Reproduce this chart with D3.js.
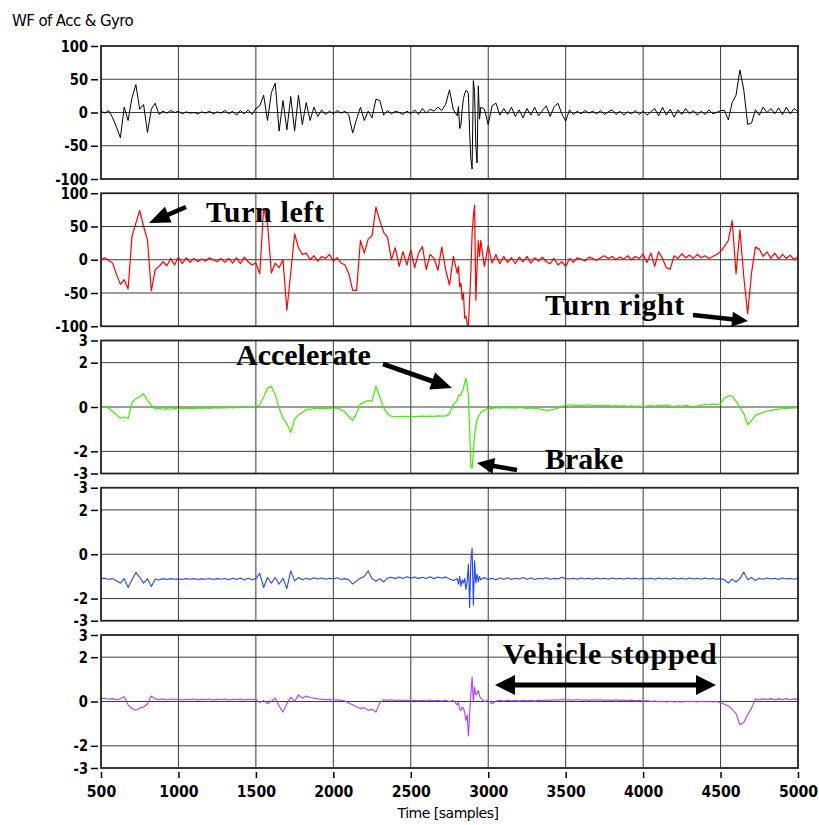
<!DOCTYPE html>
<html><head><meta charset="utf-8">
<script src="https://cdn.jsdelivr.net/npm/d3@7/dist/d3.min.js"></script>
<style>
body{margin:0;background:#fff}
svg{display:block}
.tick text{font-family:"DejaVu Sans",Verdana,sans-serif;font-weight:bold;font-size:16px;fill:#000}
.tick line{stroke:#000;stroke-width:1.5}
.ann{font-family:"Liberation Serif","Times New Roman",serif;font-weight:bold;font-size:30px;fill:#000}
</style></head>
<body><svg id="chart" width="819" height="825"></svg>
<script>
// ---------- data ----------
// sample times: every 25 samples, denser (every 8) around the braking spike
const samples = [].concat(d3.range(500, 2800, 25), d3.range(2800, 2960, 8), d3.range(2975, 5001, 25));
const timeTicks = [500,1000,1500,2000,2500,3000,3500,4000,4500,5000];
const wfTicks = [100,50,0,-50,-100];
const wfGrid = [50,0,-50];
const smallTicks = [3,2,0,-2,-3];
const smallGrid = [2,0,-2];

const seriesBlack = [
 2,-1,3,-8,-22,-38,8,-12,22,42, 5,12,-30,5,14,-3,2,-1,3,0, 2,-2,1,-1,0,-2,1,-1,2,-2,
 1,-1,3,-2,2,-4,3,-2,4,-3, 6,10,26,-12,30,44,-28,18,-26,24, -28,26,-18,15,-12,8,-6,4,-3,2,
 -2,3,-1,2,-4,-31,-10,8,-12,2, -8,20,18,-4,3,-2,2,0,-3,2, -2,4,-3,6,-1,5,2,8,3,12, 34,4,
 -5,9,-24,-18,5,21,28,33,32,28,-30,-70,-85,48,30,-50,-76,40,-10,8,
 5,-18,10,14,-4,6,-3,8,-6,4, -8,6,-4,8,-5,3,10,-6,8,14, -2,-13,4,-3,2,-2,3,-1,2,-2,
 3,-3,1,4,-3,2,-4,1,-2,3, -3,2,-4,1,6,-5,8,-4,5,-7, 4,-3,6,-2,3,-4,2,-3,4,-2,
 0,3,3,-11,15,26,64,34,-18,-16, 4,-4,8,0,6,-2,7,-3,8,-2, 6,1];

const seriesRed = [
 0,3,-1,-5,-22,-37,-30,-44,35,55, 74,50,30,-47,-15,-10,-3,-9,2,-8, 4,-6,3,-4,2,-3,1,-2,3,0,
 -3,2,-4,2,-5,3,-6,4,-3,-8, -5,-21,77,55,-20,-5,-12,0,-76,-20, 39,18,8,10,0,6,-2,5,2,8,
 -2,3,-5,-8,-21,-46,-46,29,10,31, 36,79,59,41,34,0,18,-10,12,-8, 15,-12,10,20,-15,8,2,-16,19,-15, -38,5,
 -20,-10,-41,-35,-60,-50,-88,-85,-96,-100,-60,-20,40,65,82,-61,-10,29,5,29,
 -10,21,-5,8,-6,5,-4,3,-6,4, -3,5,-5,3,-2,4,-3,-6,2,-8, -3,-10,2,-4,3,1,-2,4,2,-1,
 3,6,2,5,0,4,1,6,0,5, 2,8,-4,10,-10,12,2,-12,-14,6, 2,9,3,7,2,8,3,6,2,5,
 8,12,20,29,59,-21,45,-26,-81,-20, 19,16,5,12,2,10,1,8,2,7, 0,5];

const seriesGreen = [
 0,0.02,-0.05,-0.2,-0.35,-0.5,-0.45,-0.52,0.2,0.38, 0.45,0.6,0.3,0.08,-0.1,-0.06,-0.1,-0.07,-0.1,-0.06,
 -0.09,-0.06,-0.08,-0.05,-0.07,-0.04,-0.06,-0.04,-0.06,-0.03, -0.05,-0.03,-0.04,-0.02,-0.04,-0.01,-0.03,0,-0.02,0,
 0.02,0.1,0.45,0.85,0.92,0.55,-0.05,-0.5,-0.75,-1.15, -0.55,-0.35,-0.25,-0.12,-0.1,-0.07,-0.08,-0.05,-0.07,-0.04,
 -0.06,-0.04,-0.12,-0.22,-0.45,-0.6,-0.3,0.15,0.2,0.3, 0.25,0.95,0.45,-0.05,-0.3,-0.42,-0.44,-0.43,-0.42,-0.43,
 -0.42,-0.43,-0.42,-0.41,-0.42,-0.41,-0.42,-0.4,-0.41,-0.4, -0.3,0.12,
 0.3,0.54,0.5,0.55,0.7,0.85,1.1,1.3,1.0,0.5,-1.0,-2.7,-2.75,-2.0,-1.3,-0.9,-0.55,-0.45,-0.35,-0.25,
 -0.15,-0.05,-0.06,-0.03,-0.05,-0.02,-0.04,-0.03,-0.05,-0.02, -0.04,-0.06,-0.04,-0.06,-0.08,-0.12,-0.15,-0.14,-0.1,-0.05,
 0.02,0.08,0.1,0.07,0.09,0.06,0.08,0.1,0.07,0.06, 0.08,0.05,0.07,0.04,0.06,0.04,0.05,0.02,0.05,0.03,
 0.04,0.02,0.04,0.06,0.03,0.08,0.05,0.1,0.04,0.02, 0.05,0.03,0.08,0.04,0.02,0.04,0.08,0.12,0.1,0.13,
 0.1,0.15,0.4,0.5,0.5,0.25,0,-0.3,-0.8,-0.6, -0.38,-0.3,-0.25,-0.18,-0.15,-0.12,-0.1,-0.08,-0.06,-0.05, -0.03,-0.04];

const seriesBlue = [
 -1.1,-1.08,-1.14,-1.1,-1.2,-1.3,-1.1,-1.5,-1.15,-0.82, -1.05,-1.3,-1.1,-1.45,-1.12,-1.16,-1.1,-1.14,-1.1,-1.13,
 -1.11,-1.14,-1.1,-1.13,-1.1,-1.14,-1.11,-1.13,-1.09,-1.14, -1.1,-1.13,-1.09,-1.15,-1.08,-1.14,-1.07,-1.16,-1.08,-1.15,
 -1.1,-0.85,-1.5,-1.05,-1.3,-1.05,-1.35,-1.08,-1.55,-0.75, -1.2,-1.05,-1.15,-1.08,-1.14,-1.06,-1.12,-1.07,-1.13,-1.08,
 -1.12,-1.06,-1.14,-1.1,-1.15,-1.35,-1.2,-1.08,-1.0,-0.75, -1.1,-1.22,-1.1,-1.25,-1.08,-1.04,-1.1,-1.03,-1.09,-1.02,
 -1.08,-1.03,-1.1,-1.04,-1.09,-1.02,-1.1,-1.03,-1.08,-1.02, -1.12,-1.18,
 -1.1,-1.35,-1.0,-1.45,-1.15,-1.3,-1.1,-1.6,-1.2,-0.45,-2.4,-0.3,0.28,-2.3,-0.3,-1.3,-0.9,-1.25,-1.0,-1.15,
 -1.05,-1.14,-1.08,-1.15,-1.07,-1.13,-1.06,-1.14,-1.08,-1.12, -1.05,-1.13,-1.07,-1.14,-1.08,-1.12,-1.06,-1.13,-1.09,-1.12,
 -1.04,-1.1,-1.12,-1.08,-1.13,-1.07,-1.12,-1.08,-1.13,-1.07, -1.12,-1.08,-1.13,-1.07,-1.12,-1.08,-1.13,-1.07,-1.12,-1.08,
 -1.13,-1.07,-1.12,-1.08,-1.13,-1.07,-1.12,-1.08,-1.13,-1.07, -1.12,-1.08,-1.13,-1.07,-1.12,-1.08,-1.13,-1.07,-1.12,-1.08,
 -1.13,-1.1,-1.15,-1.3,-1.12,-1.25,-1.1,-0.8,-1.15,-1.05, -1.18,-1.08,-1.13,-1.07,-1.12,-1.08,-1.14,-1.07,-1.12,-1.09, -1.13,-1.08];

const seriesPurple = [
 0.12,0.15,0.1,0.13,0.08,0.12,0.22,-0.15,-0.32,-0.4, -0.3,-0.25,-0.1,0.25,0.12,0.08,0.12,0.07,0.11,0.08,
 0.1,0.07,0.1,0.08,0.11,0.07,0.1,0.08,0.11,0.07, 0.1,0.08,0.11,0.07,0.1,0.08,0.11,0.07,0.1,0.08,
 0.09,-0.05,0.05,-0.1,0.02,0.15,-0.2,-0.48,-0.1,0.2, 0,0.3,0.15,0.25,0.18,0.15,0.12,0.1,0.08,0.09,
 0.07,0.08,0.05,0.02,-0.08,-0.15,-0.25,-0.32,-0.28,-0.4, -0.35,-0.48,-0.05,0.08,0.05,0.08,0.04,0.07,0.04,0.07,
 0.03,0.06,0.03,0.06,0.03,0.07,0.03,0.06,0.02,0.06, 0,0.05,
 -0.15,-0.05,-0.35,-0.4,-0.25,-0.3,-0.5,-0.85,-0.6,-1.55,-0.55,0.35,1.1,0,0.65,0.3,0.35,0.5,0.25,0.15,
 0,0.05,-0.1,0.02,0.05,0.02,0.06,0.03,0.05,0.02, 0.06,0.03,0.05,0.02,0.06,0.04,0.07,0.05,0.08,0.06,
 0.09,0.07,0.08,0.06,0.09,0.06,0.08,0.05,0.08,0.06, 0.08,0.05,0.07,0.05,0.08,0.05,0.07,0.04,0.06,0.03,
 0.05,0.02,0.04,0,0.02,-0.01,0.01,-0.02,0.01,-0.02, 0,-0.02,0.01,-0.01,0.01,-0.02,0.01,-0.01,0,-0.02,
 0,-0.05,-0.12,-0.2,-0.35,-0.55,-1.05,-0.95,-0.6,-0.3, 0.12,0.08,0.12,0.09,0.13,0.08,0.12,0.09,0.13,0.08, 0.12,0.1];

// ---------- layout ----------
const left = 101, right = 798, top0 = 46, pitch = 147.25, ph = 133;
const labelScale = 0.82;
const svg = d3.select('#chart');
const x = d3.scaleLinear().domain([500, 5000]).range([left, right]);

const panels = [
  {values: seriesBlack,  domain: [-100, 100], ticks: wfTicks,    grid: wfGrid,    color: '#000000', width: 1.0},
  {values: seriesRed,    domain: [-100, 100], ticks: wfTicks,    grid: wfGrid,    color: '#ff0000', width: 1.2},
  {values: seriesGreen,  domain: [-3, 3],     ticks: smallTicks, grid: smallGrid, color: '#3cf000', width: 1.2},
  {values: seriesBlue,   domain: [-3, 3],     ticks: smallTicks, grid: smallGrid, color: '#2246ff', width: 1.1},
  {values: seriesPurple, domain: [-3, 3],     ticks: smallTicks, grid: smallGrid, color: '#b03cff', width: 1.1}
];

const vGrid = timeTicks.slice(1, -1);

panels.forEach((p, k) => {
  const top = top0 + k * pitch, bottom = top + ph;
  const y = d3.scaleLinear().domain(p.domain).range([bottom, top]);
  const g = svg.append('g');
  const clipId = 'clip' + k;
  svg.append('clipPath').attr('id', clipId).append('rect')
     .attr('x', left).attr('y', top).attr('width', right - left).attr('height', ph);
  g.selectAll('.vg').data(vGrid).join('line')
    .attr('x1', d => x(d)).attr('x2', d => x(d)).attr('y1', top).attr('y2', bottom)
    .attr('stroke', '#3c3c3c').attr('stroke-width', 1);
  g.selectAll('.hg').data(p.grid).join('line')
    .attr('x1', left).attr('x2', right).attr('y1', d => y(d)).attr('y2', d => y(d))
    .attr('stroke', '#3c3c3c').attr('stroke-width', 1);
  const pts = d3.zip(samples, p.values);
  g.append('path').datum(pts)
    .attr('clip-path', `url(#${clipId})`)
    .attr('fill', 'none').attr('stroke', p.color).attr('stroke-width', p.width)
    .attr('stroke-linejoin', 'round')
    .attr('d', d3.line().x(d => x(d[0])).y(d => y(d[1])));
  g.append('rect').attr('x', left).attr('y', top).attr('width', right - left).attr('height', ph)
    .attr('fill', 'none').attr('stroke', '#222').attr('stroke-width', 1.8);
  const ax = svg.append('g').attr('transform', `translate(${left - 3},0)`)
    .call(d3.axisLeft(y).tickValues(p.ticks).tickSize(7).tickPadding(3).tickFormat(d => String(d)));
  ax.select('.domain').remove();
  ax.selectAll('.tick text').attr('x', -10 / labelScale).attr('transform', `scale(${labelScale},1)`);
});

const lastBottom = top0 + 4 * pitch + ph;
const xa = svg.append('g').attr('transform', `translate(0,${lastBottom + 4})`)
  .call(d3.axisBottom(x).tickValues(timeTicks).tickSize(6).tickPadding(8).tickFormat(d => String(d)));
xa.select('.domain').remove();
xa.selectAll('.tick text').attr('transform', `scale(${labelScale + 0.06},1)`);

svg.append('text').attr('x', 12).attr('y', 26).text('WF of Acc & Gyro')
  .attr('font-family', '"DejaVu Sans",Verdana,sans-serif').attr('font-size', 15).attr('letter-spacing', '-0.6px');
svg.append('text').attr('x', 448).attr('y', 818).attr('text-anchor', 'middle').text('Time [samples]')
  .attr('font-family', '"DejaVu Sans",Verdana,sans-serif').attr('font-size', 14).attr('letter-spacing', '-0.5px');

// ---------- annotations ----------
function arrowPts(x1, y1, x2, y2, w, hl, hw, both) {
  const L = Math.hypot(x2 - x1, y2 - y1), ux = (x2 - x1) / L, uy = (y2 - y1) / L, px = -uy, py = ux;
  const bx = x2 - ux * hl, by = y2 - uy * hl;
  const ax = x1 + ux * hl, ay = y1 + uy * hl;
  const pts = [];
  if (both) pts.push([x1, y1], [ax + px * hw / 2, ay + py * hw / 2], [ax + px * w / 2, ay + py * w / 2]);
  else pts.push([x1 + px * w / 2, y1 + py * w / 2]);
  pts.push([bx + px * w / 2, by + py * w / 2], [bx + px * hw / 2, by + py * hw / 2], [x2, y2],
           [bx - px * hw / 2, by - py * hw / 2], [bx - px * w / 2, by - py * w / 2]);
  if (both) pts.push([ax - px * w / 2, ay - py * w / 2], [ax - px * hw / 2, ay - py * hw / 2]);
  else pts.push([x1 - px * w / 2, y1 - py * w / 2]);
  return pts.map(p => p.join(',')).join(' ');
}
const arrows = [
  [186, 207, 149, 223, 4.5, 21, 17, false],
  [693, 315, 748, 321, 4.5, 16, 15, false],
  [383, 364, 452, 388, 5, 21, 18, false],
  [517, 470, 477, 463, 4.5, 17, 16, false],
  [495, 685, 716, 685, 5, 20, 20, true]
];
svg.selectAll('.arrow').data(arrows).join('polygon')
  .attr('points', d => arrowPts(...d)).attr('fill', '#000');

const notes = [
  ['Turn left', 206, 222, 0.6],
  ['Turn right', 545, 315, 0.5],
  ['Accelerate', 236, 365, 0],
  ['Brake', 545, 469, 0],
  ['Vehicle stopped', 503, 664, 1.0]
];
svg.selectAll('.ann').data(notes).join('text').attr('class', 'ann')
  .attr('x', d => d[1]).attr('y', d => d[2]).attr('letter-spacing', d => d[3] + 'px').text(d => d[0]);

if (panels.some(p => p.values.length !== samples.length)) console.error('length mismatch', samples.length, panels.map(p => p.values.length));
</script></body></html>
